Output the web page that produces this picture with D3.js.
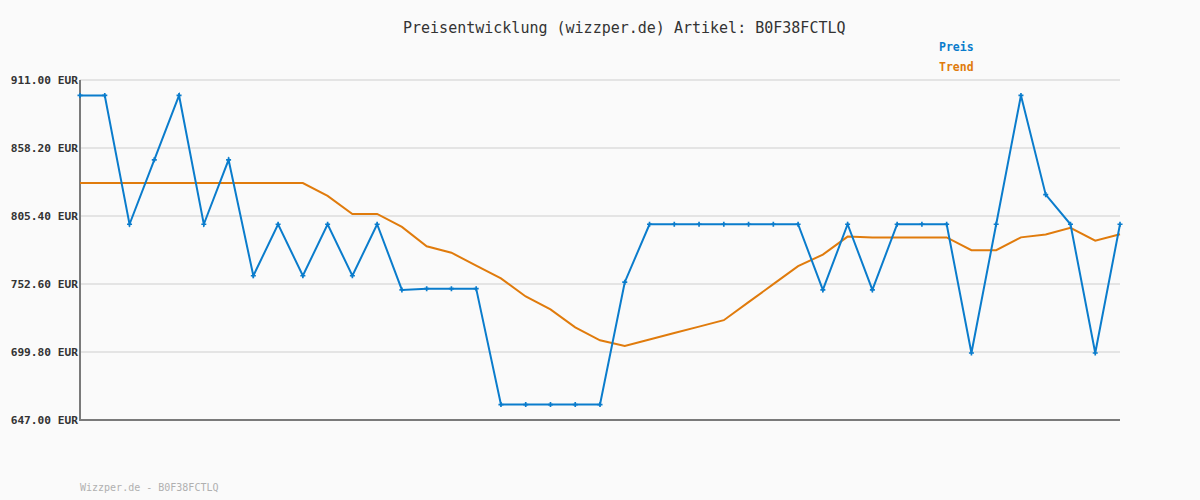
<!DOCTYPE html>
<html>
<head>
<meta charset="utf-8">
<script src="https://cdn.jsdelivr.net/npm/d3@7"></script>
<style>
  html, body { margin: 0; padding: 0; background: #fafafa; }
  svg { display: block; }
</style>
</head>
<body>
<svg id="chart" width="1200" height="500"></svg>
<script>
const title = "Preisentwicklung (wizzper.de) Artikel: B0F38FCTLQ";
const footer = "Wizzper.de - B0F38FCTLQ";
const seriesNames = ["Preis", "Trend"];
const yTicks = [647.0, 699.8, 752.6, 805.4, 858.2, 911.0];
const preis = [899, 899, 799, 849, 899, 799, 849, 759, 799, 759,
               799, 759, 799, 748, 749, 749, 749, 659, 659, 659,
               659, 659, 754, 799, 799, 799, 799, 799, 799, 799,
               748, 799, 748, 799, 799, 799, 699, 799, 899, 822,
               799, 699, 799];
const trend = [831.0, 831.0, 831.0, 831.0, 831.0, 831.0, 831.0, 831.0, 831.0, 831.0,
               821.0, 807.0, 807.0, 796.9, 781.9, 776.9, 766.9, 756.9, 742.9, 732.9,
               718.9, 708.9, 704.4, 709.5, 714.5, 719.5, 724.5, 738.5, 752.5, 766.5,
               775.4, 789.4, 788.8, 788.8, 788.8, 788.8, 778.8, 778.8, 788.8, 791.1,
               796.2, 786.2, 791.3];
const idx = d3.range(preis.length);

(function () {
const svg = d3.select("#chart");
const mLeft = 80, mRight = 1120, mTop = 80, mBottom = 420;
const x = d3.scaleLinear().domain([0, preis.length - 1]).range([mLeft, mRight]);
const y = d3.scaleLinear().domain([647, 911]).range([mBottom, mTop]);

const mono = "'DejaVu Sans Mono', 'Liberation Mono', monospace";

// grid lines
svg.append("g")
  .selectAll("line").data(yTicks).join("line")
  .attr("x1", mLeft).attr("x2", mRight)
  .attr("y1", d => y(d)).attr("y2", d => y(d))
  .attr("stroke", "#e4e4e4").attr("stroke-width", 2);

// y axis labels via d3 axis
const yAxis = d3.axisLeft(y).tickValues(yTicks)
  .tickFormat(d => d.toFixed(2) + " EUR").tickSize(0).tickPadding(2);
const ya = svg.append("g").attr("transform", `translate(${mLeft},0)`).call(yAxis);
ya.select(".domain").remove();
ya.selectAll("text")
  .attr("font-family", mono).attr("font-size", "11.2px").attr("font-weight", "bold")
  .attr("fill", "#333");

// axes lines
svg.append("line").attr("x1", mLeft).attr("x2", mLeft).attr("y1", mTop).attr("y2", mBottom + 1)
  .attr("stroke", "#7a7a7a").attr("stroke-width", 2);
svg.append("line").attr("x1", mLeft).attr("x2", mRight).attr("y1", mBottom).attr("y2", mBottom)
  .attr("stroke", "#7a7a7a").attr("stroke-width", 2);

const blue = "#0a7ccc", orange = "#e07b0c";

// trend line
svg.append("path").datum(idx)
  .attr("fill", "none").attr("stroke", orange).attr("stroke-width", 2)
  .attr("d", d3.line().x(i => x(i)).y(i => y(trend[i])));

// price line
svg.append("path").datum(idx)
  .attr("fill", "none").attr("stroke", blue).attr("stroke-width", 2)
  .attr("d", d3.line().x(i => x(i)).y(i => y(preis[i])));

// markers
const sym = d3.symbol().type(d3.symbolCross).size(14);
svg.append("g").selectAll("path").data(idx).join("path")
  .attr("transform", i => `translate(${x(i)},${y(preis[i])})`)
  .attr("d", sym).attr("fill", blue);

// title
svg.append("text").attr("x", 403).attr("y", 33)
  .attr("font-family", mono).attr("font-size", "15px").attr("fill", "#333")
  .text(title);

// legend
const legColors = [blue, orange];
svg.append("g").selectAll("text").data(seriesNames).join("text")
  .attr("x", 939).attr("y", (d, i) => 51 + i * 20)
  .attr("font-family", mono).attr("font-size", "11.5px").attr("font-weight", "bold")
  .attr("fill", (d, i) => legColors[i])
  .text(d => d);

// footer
svg.append("text").attr("x", 80).attr("y", 491)
  .attr("font-family", mono).attr("font-size", "10px").attr("fill", "#b0b0b0")
  .text(footer);
})();
</script>
</body>
</html>
